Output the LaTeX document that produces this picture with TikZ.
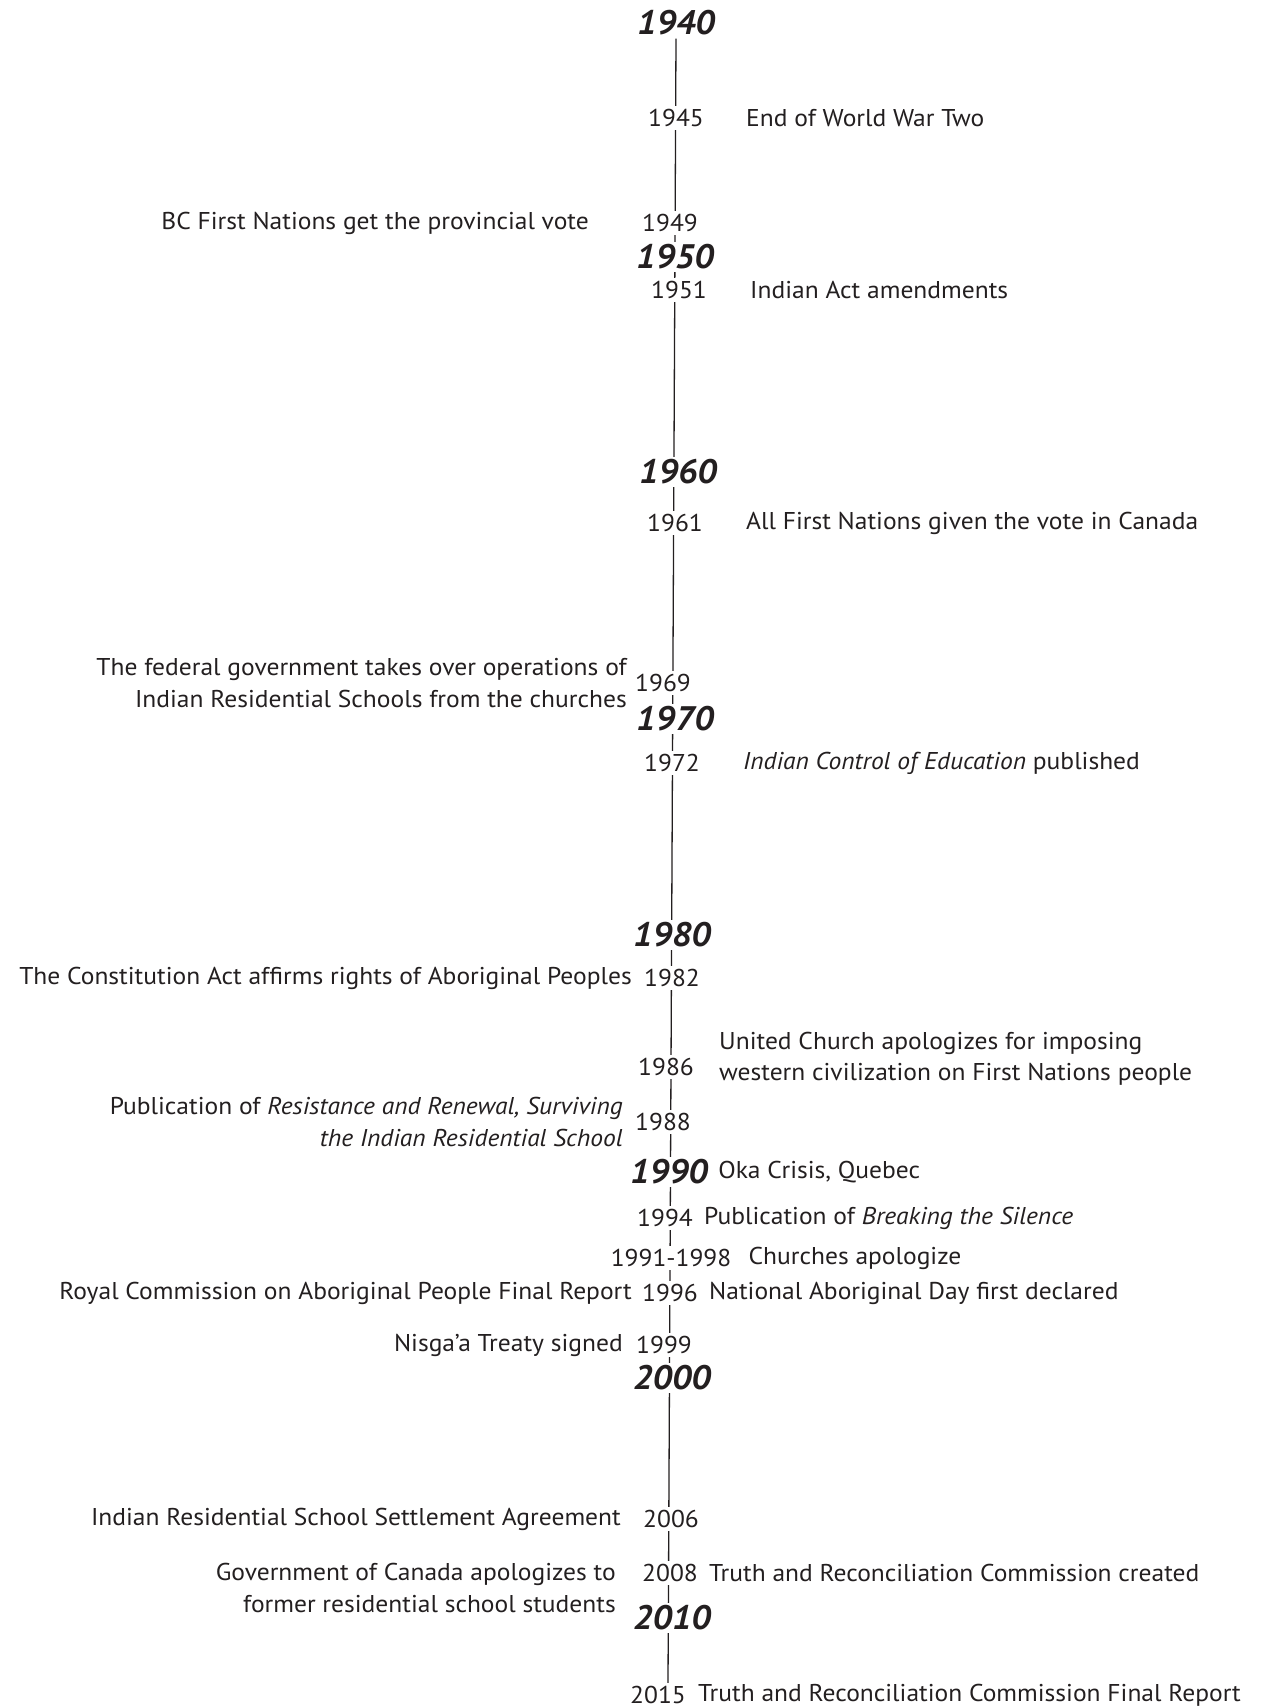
\documentclass[tikz,border=0pt]{standalone}
\usepackage{fontspec}
\setmainfont{PT Sans}[FakeStretch=1.05]
\usepackage{tikz}
\usetikzlibrary{positioning,backgrounds}
\definecolor{ink}{RGB}{35,31,32}
\tikzstyle{year}=[fill=white,inner xsep=0pt,inner ysep=3pt,text=ink,font=\fontsize{24.3}{31}\selectfont]
\tikzstyle{decade}=[year,font=\fontsize{34}{34}\selectfont\bfseries\itshape]
\tikzstyle{event}=[inner sep=0pt,text=ink,font=\fontsize{24.3}{31.5}\selectfont]
\tikzstyle{spine}=[draw=ink,line width=1.3pt]

\begin{document}
\begin{tikzpicture}[x=1pt,y=-1pt]
      \useasboundingbox (0,0) rectangle (1263,1707);

      \node (y1940) [decade] at (676,23) {1940};
      \node (y1945) [year] at (676,118) {1945};
      \node (y1949) [year] at (670,223) {1949};
      \node (y1950) [decade] at (675,257) {1950};
      \node (y1951) [year] at (679,290) {1951};
      \node (y1960) [decade] at (678,472) {1960};
      \node (y1961) [year] at (675,523) {1961};
      \node (y1969) [year] at (663,683) {1969};
      \node (y1970) [decade] at (675,719) {1970};
      \node (y1972) [year] at (672,763) {1972};
      \node (y1980) [decade] at (672,935) {1980};
      \node (y1982) [year] at (672,978) {1982};
      \node (y1986) [year] at (666,1067) {1986};
      \node (y1988) [year] at (663,1122) {1988};
      \node (y1990) [decade] at (669,1172) {1990};
      \node (y1994) [year] at (665,1218) {1994};
      \node (y1991) [year] at (671,1258) {1991-1998};
      \node (y1996) [year] at (670,1293) {1996};
      \node (y1999) [year] at (664,1345) {1999};
      \node (y2000) [decade] at (672,1378) {2000};
      \node (y2006) [year] at (671,1519) {2006};
      \node (y2008) [year] at (670,1573) {2008};
      \node (y2010) [decade] at (672,1618) {2010};
      \node (y2015) [year] at (658,1695) {2015};

      \node (e1945) [event,right=42pt of y1945] {End of World War Two};
      \node (e1949) [event,left=53pt of y1949] {BC First Nations get the provincial vote};
      \node (e1951) [event,right=43pt of y1951] {Indian Act amendments};
      \node (e1961) [event,right=43pt of y1961] {All First Nations given the vote in Canada};
      \node (e1969) [event,left=8pt of y1969,align=right] {The federal government takes over operations of\\Indian Residential Schools from the churches};
      \node (e1972) [event,right=43pt of y1972] {\textit{Indian Control of Education} published};
      \node (e1982) [event,left=12pt of y1982] {The Constitution Act affirms rights of Aboriginal Peoples};
      \node (e1986) [event,right=25pt of y1986,yshift=8pt,align=left] {United Church apologizes for imposing\\western civilization on First Nations people};
      \node (e1988) [event,left=12pt of y1988,align=right] {Publication of \textit{Resistance and Renewal, Surviving}\\\textit{the Indian Residential School}};
      \node (e1990) [event,right=10pt of y1990] {Oka Crisis, Quebec};
      \node (e1994) [event,right=11pt of y1994] {Publication of \textit{Breaking the Silence}};
      \node (e1991) [event,right=17pt of y1991] {Churches apologize};
      \node (e1996a) [event,left=10pt of y1996] {Royal Commission on Aboriginal People Final Report};
      \node (e1996b) [event,right=11pt of y1996] {National Aboriginal Day first declared};
      \node (e1999) [event,left=13pt of y1999] {Nisga’a Treaty signed};
      \node (e2006) [event,left=22pt of y2006] {Indian Residential School Settlement Agreement};
      \node (e2008a) [event,left=26pt of y2008,yshift=-15pt,align=right] {Government of Canada apologizes to\\former residential school students};
      \node (e2008b) [event,right=11pt of y2008] {Truth and Reconciliation Commission created};
      \node (e2015) [event,right=12pt of y2015] {Truth and Reconciliation Commission Final Report};

      \begin{scope}[on background layer]
        \draw [spine] (y1940.south) -- ([xshift=10pt]y2015.north);
      \end{scope}
    \end{tikzpicture}
\end{document}
